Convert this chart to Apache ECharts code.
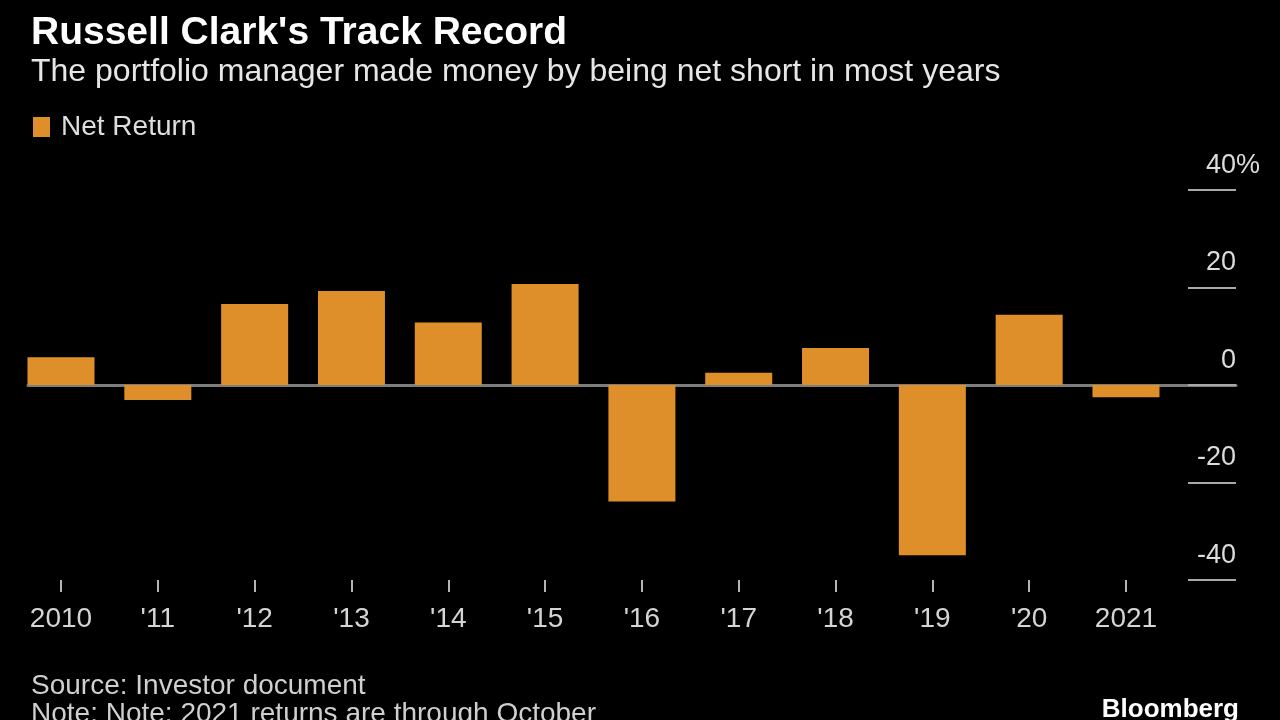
<!DOCTYPE html>
<html>
<head>
<meta charset="utf-8">
<script src="https://cdn.jsdelivr.net/npm/echarts@6/dist/echarts.min.js"></script>
<style>
html,body{margin:0;padding:0;background:#000;}
#chart{width:1280px;height:720px;}
</style>
</head>
<body>
<div id="chart"></div>
<script>
const categories = ['2010', "'11", "'12", "'13", "'14", "'15", "'16", "'17", "'18", "'19", "'20", '2021'];
const netReturn = [5.7, -3.1, 16.6, 19.3, 12.8, 20.7, -23.9, 2.5, 7.6, -34.9, 14.4, -2.5];
const yTicks = [-40, -20, 0, 20, 40];
const titleText = "Russell Clark's Track Record";
const subtitleText = 'The portfolio manager made money by being net short in most years';
const sourceText = 'Source: Investor document';
const noteText = 'Note: Note: 2021 returns are through October';
const brandText = 'Bloomberg';
const seriesName = 'Net Return';

const FONT = '"Liberation Sans", Arial, sans-serif';
const Y_FONT_SIZE = 27;
const TICK_LEN = 48;

// measure y labels so that the numbers end at the tick end and the % sits beyond it
const mctx = document.createElement('canvas').getContext('2d');
mctx.font = Y_FONT_SIZE + 'px ' + FONT;
const yRich = {p: {color: '#dcdcdc', fontFamily: FONT, fontSize: Y_FONT_SIZE, lineHeight: Y_FONT_SIZE}};
yTicks.forEach((v, i) => {
  const w = mctx.measureText(String(v)).width;
  yRich['t' + i] = {color: '#dcdcdc', fontFamily: FONT, fontSize: Y_FONT_SIZE, lineHeight: Y_FONT_SIZE,
                    padding: [0, 0, 0, Math.max(0, TICK_LEN - w)]};
});

const chart = echarts.init(document.getElementById('chart'), null, {renderer: 'canvas'});

chart.setOption({
  backgroundColor: '#000',
  animation: false,
  title: [
    {text: titleText, left: 26, top: 9, textStyle: {color: '#fff', fontFamily: FONT, fontWeight: 'bold', fontSize: 39, lineHeight: 39}},
    {text: subtitleText, left: 26, top: 51, textStyle: {color: '#e6e6e6', fontFamily: FONT, fontWeight: 'normal', fontSize: 32, lineHeight: 32}},
    {text: sourceText, left: 26, top: 667, textStyle: {color: '#cfcfcf', fontFamily: FONT, fontWeight: 'normal', fontSize: 28, lineHeight: 28}},
    {text: noteText, left: 26, top: 695, textStyle: {color: '#cfcfcf', fontFamily: FONT, fontWeight: 'normal', fontSize: 28, lineHeight: 28}},
    {text: brandText, right: 36, top: 692, textStyle: {color: '#fff', fontFamily: FONT, fontWeight: 'bold', fontSize: 26, lineHeight: 26}}
  ],
  legend: {
    left: 28, top: 108,
    icon: 'rect', itemWidth: 17, itemHeight: 20,
    textStyle: {color: '#dedede', fontFamily: FONT, fontSize: 28, lineHeight: 28, padding: [0, 0, 0, 6]},
    data: [seriesName]
  },
  grid: [
    {left: 12.6, right: 105.6, top: 190, bottom: 140},
    {left: 28, right: 44, top: 190, bottom: 140}
  ],
  xAxis: [
    {
      gridIndex: 0, type: 'category', data: categories, position: 'bottom',
      axisLine: {show: false, onZero: false},
      axisTick: {show: true, alignWithLabel: true, length: 12, lineStyle: {color: '#b5b5b5', width: 2}},
      axisLabel: {color: '#d4d4d4', fontFamily: FONT, fontSize: 28, margin: 25}
    },
    {
      gridIndex: 1, type: 'value', min: 0, max: 1,
      axisLine: {show: true, onZero: true, lineStyle: {color: '#7d7d7d', width: 3}},
      axisTick: {show: false}, axisLabel: {show: false}, splitLine: {show: false}
    }
  ],
  yAxis: [
    {gridIndex: 0, type: 'value', min: yTicks[0], max: yTicks[yTicks.length - 1], interval: 20, show: false},
    {
      gridIndex: 1, type: 'value', position: 'right',
      min: yTicks[0], max: yTicks[yTicks.length - 1], interval: 20,
      axisLine: {show: false, onZero: false},
      axisTick: {show: true, inside: true, length: TICK_LEN, lineStyle: {color: '#a8a8a8', width: 2}},
      splitLine: {show: false},
      axisLabel: {
        inside: true, margin: TICK_LEN, align: 'left', verticalAlign: 'bottom',
        padding: [0, 0, 11, 0],
        color: '#dcdcdc', fontFamily: FONT, fontSize: Y_FONT_SIZE, lineHeight: Y_FONT_SIZE,
        formatter: v => {
          const i = yTicks.indexOf(v);
          return '{t' + i + '|' + v + '}' + (v === yTicks[yTicks.length - 1] ? '{p|%}' : '');
        },
        rich: yRich
      }
    }
  ],
  series: [
    {
      name: seriesName, type: 'bar', xAxisIndex: 0, yAxisIndex: 0,
      data: netReturn, barWidth: 67,
      itemStyle: {color: '#df8f2a'}
    }
  ]
});
</script>
</body>
</html>
